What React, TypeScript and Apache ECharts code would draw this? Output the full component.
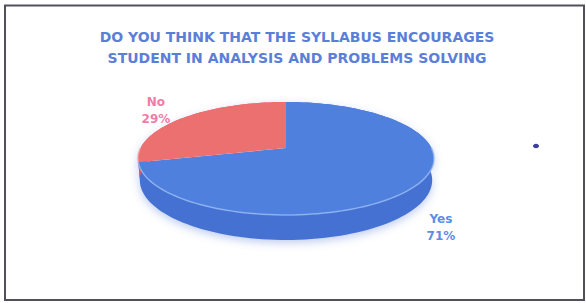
import { useEffect, useRef } from 'react';
import * as echarts from 'echarts';

const categories = ['Yes', 'No'];
const values = [71, 29];
const titleLines = [
  'DO YOU THINK THAT THE SYLLABUS ENCOURAGES',
  'STUDENT IN ANALYSIS AND PROBLEMS SOLVING',
];

const TOP_COLORS = ['#4f80de', '#ec7070'];
const SIDE_COLORS = ['#4472d2', '#d65f5e'];
const RIM_COLORS = ['rgba(150,185,245,0.8)', 'rgba(245,160,160,0.8)'];
const LABEL_COLORS = ['#5a8ee8', '#f27ca6'];
const LABEL_NUDGE = [
  [-18, 4],
  [0, 0],
];

// perspective projection of a tilted disc
const CX = 286;
const CY = 148;
const F = 725.6;
const D = 4.99;
const S = 0.375;
const C = 0.927;
const H = 0.159;

function proj(a: number, r: number, y: number): number[] {
  const X = r * Math.cos(a);
  const Z = r * Math.sin(a);
  const yc = y * C + Z * S;
  const zc = -y * S + Z * C + D;
  return [CX + (F * X) / zc, CY - (F * yc) / zc];
}

export default function App() {
  const ref = useRef<HTMLDivElement>(null);
  useEffect(() => {
    if (!ref.current) return;
    const chart = echarts.init(ref.current, undefined, { renderer: 'svg' });
    const total = values.reduce((s, v) => s + v, 0);

    const renderItem = (params: any, api: any) => {
      const i = params.dataIndex;
      const v = api.value(0);
      let cum = 0;
      for (let j = 0; j < i; j++) cum += values[j];
      const a0 = 90 - (cum / total) * 360;
      const a1 = a0 - (v / total) * 360;
      const n = Math.max(8, Math.ceil(Math.abs(a1 - a0) / 2));
      const topArc: number[][] = [];
      const botArc: number[][] = [];
      const rims: number[][][] = [];
      let cur: number[][] = [];
      for (let k = 0; k <= n; k++) {
        const a = ((a0 + ((a1 - a0) * k) / n) * Math.PI) / 180;
        const p = proj(a, 1, 0);
        topArc.push(p);
        botArc.push(proj(a, 1, -H));
        if (Math.sin(a) <= 0.02) {
          cur.push(p);
        } else if (cur.length) {
          rims.push(cur);
          cur = [];
        }
      }
      if (cur.length) rims.push(cur);
      const apex = proj(0, 0, 0);
      const children: any[] = [
        {
          type: 'polygon',
          z2: 1,
          shape: { points: topArc.concat(botArc.slice().reverse()) },
          style: {
            fill: SIDE_COLORS[i],
            shadowBlur: 8,
            shadowOffsetY: 3,
            shadowColor: 'rgba(70,110,210,0.35)',
          },
        },
        {
          type: 'polygon',
          z2: 2,
          shape: { points: [apex].concat(topArc) },
          style: { fill: TOP_COLORS[i] },
        },
      ];
      rims.forEach((pts) => {
        if (pts.length > 1)
          children.push({
            type: 'polyline',
            z2: 3,
            shape: { points: pts },
            style: { stroke: RIM_COLORS[i], lineWidth: 1.5, fill: null },
          });
      });
      const mid = (((a0 + a1) / 2) * Math.PI) / 180;
      const lp = proj(mid, 1.3, Math.sin(mid) < 0 ? -H : 0);
      const pct = Math.round((v / total) * 100) + '%';
      children.push({
        type: 'text',
        z2: 5,
        x: lp[0] + LABEL_NUDGE[i][0],
        y: lp[1] + LABEL_NUDGE[i][1],
        style: {
          text: categories[i] + '\n' + pct,
          fill: LABEL_COLORS[i],
          fontFamily: 'DejaVu Sans',
          fontWeight: 'bold',
          fontSize: 12,
          lineHeight: 17,
          align: 'center',
          verticalAlign: 'middle',
        },
      });
      return { type: 'group', children };
    };

    chart.setOption({
      animation: false,
      backgroundColor: '#ffffff',
      title: {
        text: titleLines.join('\n'),
        left: 297,
        top: 26,
        padding: 0,
        textAlign: 'center',
        textStyle: {
          color: '#5b7fd8',
          fontFamily: 'DejaVu Sans',
          fontWeight: 'bold',
          fontSize: 14,
          lineHeight: 21,
        },
      },
      graphic: [
        {
          type: 'rect',
          shape: { x: 5, y: 5.5, width: 579, height: 294.5 },
          style: { fill: 'none', stroke: '#50505a', lineWidth: 2 },
          silent: true,
        },
        {
          type: 'ellipse',
          shape: { cx: 536, cy: 146, rx: 3, ry: 2.3 },
          style: { fill: '#3b3f9e' },
          silent: true,
        },
      ],
      series: [
        {
          type: 'custom',
          coordinateSystem: 'none',
          silent: true,
          renderItem,
          data: values.map((v, i) => ({ name: categories[i], value: v })),
        },
      ],
    });
    return () => chart.dispose();
  }, []);
  return (
    <div
      ref={ref}
      style={{ position: 'fixed', left: 0, top: 0, width: 586, height: 303 }}
    />
  );
}
